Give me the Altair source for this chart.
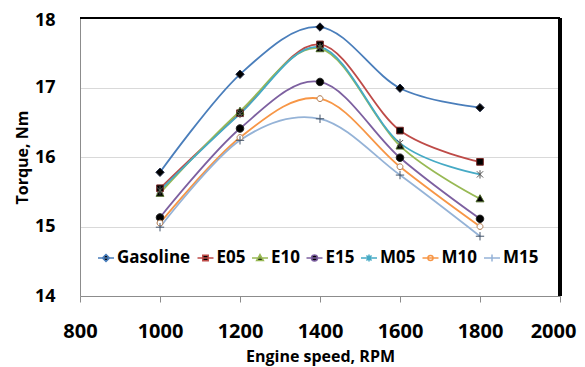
import altair as alt
import pandas as pd

rpm = [1000, 1200, 1400, 1600, 1800]
gasoline = [15.78, 17.19, 17.87, 16.99, 16.71]
e05 = [15.55, 16.63, 17.62, 16.38, 15.93]
e10 = [15.48, 16.66, 17.56, 16.16, 15.40]
e15 = [15.13, 16.41, 17.08, 15.99, 15.11]
m05 = [15.52, 16.62, 17.58, 16.20, 15.75]
m10 = [15.05, 16.28, 16.84, 15.86, 15.00]
m15 = [14.99, 16.24, 16.55, 15.74, 14.86]

series_names = ["Gasoline", "E05", "E10", "E15", "M05", "M10", "M15"]
series_values = [gasoline, e05, e10, e15, m05, m10, m15]
line_colors = ["#4a7ebb", "#be4b48", "#98b954", "#7d60a0", "#46aac5", "#f79646", "#95b3d7"]
marker_fills = ["black", "black", "black", "black", "transparent", "white", "transparent"]
marker_strokes = ["#1f2a44", "#7a2a28", "#4f6a2a", "#222222", "#555555", "#b07a50", "#44556a"]
marker_paths = [
    "M0,-1L1,0L0,1L-1,0Z",
    "M-0.8,-0.8H0.8V0.8H-0.8Z",
    "M0,-0.95L0.95,0.75H-0.95Z",
    "M0.9,0A0.9,0.9,0,1,1,-0.9,0A0.9,0.9,0,1,1,0.9,0Z",
    "M-0.75,-0.75L0.75,0.75M-0.75,0.75L0.75,-0.75M0,-1V1",
    "M0.7,0A0.7,0.7,0,1,1,-0.7,0A0.7,0.7,0,1,1,0.7,0Z",
    "M-1,0H1M0,-1V1",
]
legend_paths = [
    "M-1,0H1M0,-0.44L0.44,0L0,0.44L-0.44,0Z",
    "M-1,0H1M-0.34,-0.34H0.34V0.34H-0.34Z",
    "M-1,0H1M0,-0.42L0.42,0.32H-0.42Z",
    "M-1,0H1M0.38,0A0.38,0.38,0,1,1,-0.38,0A0.38,0.38,0,1,1,0.38,0Z",
    "M-1,0H1M-0.32,-0.32L0.32,0.32M-0.32,0.32L0.32,-0.32M0,-0.44V0.44",
    "M-1,0H1M0.32,0A0.32,0.32,0,1,1,-0.32,0A0.32,0.32,0,1,1,0.32,0Z",
    "M-1,0H1M0,-0.44V0.44",
]
x_ticks = [800, 1000, 1200, 1400, 1600, 1800, 2000]
y_ticks = [14, 15, 16, 17, 18]
x_max = 2000
y_max = 18

rows = []
for name, vals in zip(series_names, series_values):
    for r, v in zip(rpm, vals):
        rows.append({"series": name, "rpm": r, "torque": v})
df = pd.DataFrame(rows)

FONT = "Open Sans"

xscale = alt.Scale(domain=[800, 2000], nice=False, zero=False)
yscale = alt.Scale(domain=[14, 18], nice=False, zero=False)
stroke_scale = alt.Scale(domain=series_names, range=line_colors)
fill_scale = alt.Scale(domain=series_names, range=marker_fills)
shape_scale = alt.Scale(domain=series_names, range=legend_paths)

legend = alt.Legend(
    orient="none", legendX=17, legendY=231, direction="horizontal", columns=7,
    title=None, labelFont=FONT, labelFontSize=17, labelFontWeight="bold",
    labelColor="black", symbolSize=256, symbolStrokeWidth=1.5,
    columnPadding=3.5, labelOffset=2, padding=0,
)

xaxis = alt.Axis(
    values=x_ticks, title="Engine speed, RPM", grid=False, domain=True,
    labelFont=FONT, labelFontSize=20, labelFontWeight="bold", labelColor="black",
    labelPadding=19, labelFlush=False, labelOverlap=False,
    labelOffset={"condition": {"test": "datum.value == 2000", "value": -7}, "value": 0},
    ticks=True, tickSize=6, tickColor="#8c8c8c", tickWidth=1,
    domainColor="#8c8c8c", domainWidth=1, zindex=1,
    titleFont=FONT, titleFontSize=16, titleFontWeight="bold", titleColor="black",
    titleX=240, titleY=60, titleBaseline="middle", format="d")
yaxis = alt.Axis(
    values=y_ticks, title="Torque, Nm", grid=True, gridColor="#d9d9d9", domain=True,
    ticks=False, tickSize=0, labelPadding=25, labelFlush=False,
    labelOffset={"condition": {"test": "datum.value == 18", "value": 2}, "value": 0},
    labelFont=FONT, labelFontSize=18, labelFontWeight="bold", labelColor="black",
    domainColor="#8c8c8c", domainWidth=1,
    titleFont=FONT, titleFontSize=16, titleFontWeight="bold", titleColor="black",
    titleX=-58, titleY=139, titleAngle=-90, titleBaseline="middle", titleAlign="center")

X = alt.X("rpm:Q", scale=xscale, axis=xaxis)
Y = alt.Y("torque:Q", scale=yscale, axis=yaxis)

base = alt.Chart(df)

lines = base.mark_line(interpolate="cardinal", strokeWidth=1.8).encode(
    x=X, y=Y,
    stroke=alt.Stroke("series:N", scale=stroke_scale, legend=legend),
)

point_layers = []
for name, path, fc, sc in zip(series_names, marker_paths, marker_fills, marker_strokes):
    point_layers.append(
        base.transform_filter(alt.datum.series == name).mark_point(
            shape=path, filled=True, fill=fc, stroke=sc, size=70, strokeWidth=1, opacity=1
        ).encode(x=X, y=Y)
    )

legend_layer = base.transform_filter("datum.rpm < 0").mark_point(filled=True, opacity=1).encode(
    x=X, y=Y,
    shape=alt.Shape("series:N", scale=shape_scale, legend=legend),
    fill=alt.Fill("series:N", scale=fill_scale, legend=legend),
    stroke=alt.Stroke("series:N", scale=stroke_scale, legend=legend),
)

top_rule = alt.Chart(df).mark_rule(color="black", strokeWidth=2).encode(
    y=alt.Y(datum=y_max, scale=yscale, axis=yaxis)
)
right_rule = alt.Chart(df).mark_rule(color="black", strokeWidth=2.5).encode(
    x=alt.X(datum=x_max, scale=xscale, axis=xaxis)
)

chart = alt.layer(lines, *point_layers, legend_layer, top_rule, right_rule).properties(
    width=480, height=278,
    autosize=alt.AutoSizeParams(type="none"),
    padding={"left": 72, "top": 10, "right": 17, "bottom": 72},
).configure_view(stroke=None).configure(background="white")

chart.save("out.html", embed_options={"renderer": "svg", "actions": False})
